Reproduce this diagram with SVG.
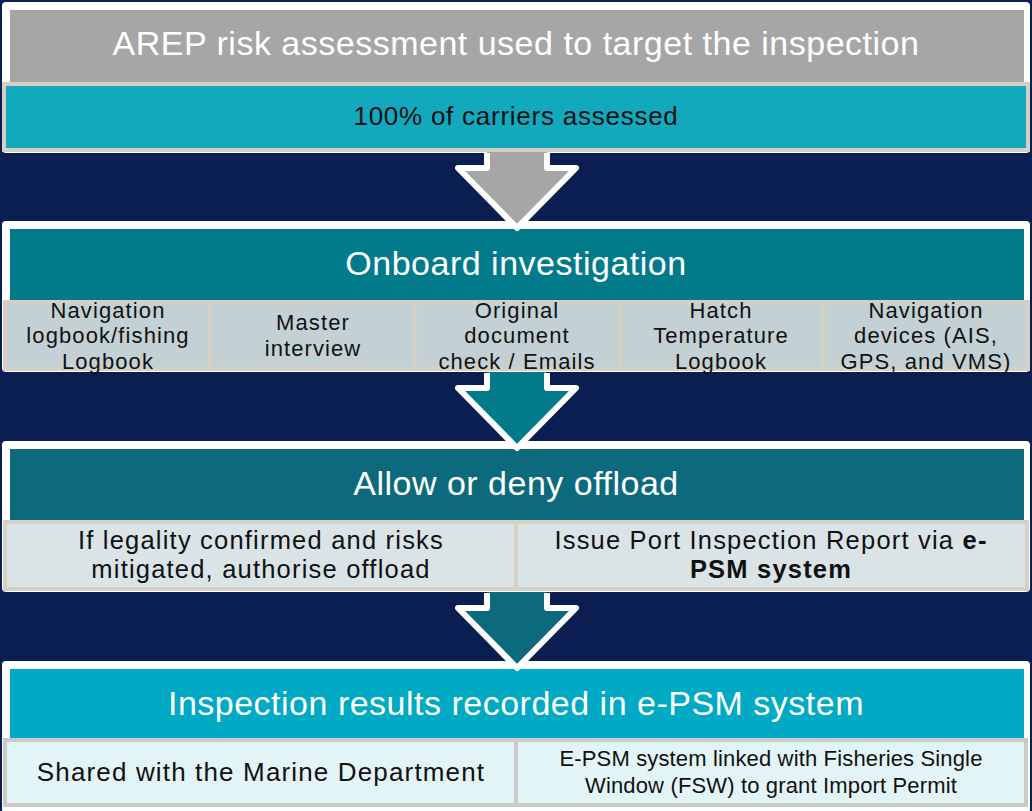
<svg xmlns="http://www.w3.org/2000/svg" width="1032" height="811" viewBox="0 0 1032 811">
<style>
.panel{fill:#ffffff}
.hd{font-family:"Liberation Sans",Arial,sans-serif;font-size:34px;letter-spacing:0.5px;fill:#ffffff;text-anchor:middle}
.sb{font-family:"Liberation Sans",Arial,sans-serif;font-size:25.5px;letter-spacing:1.2px;fill:#111111;text-anchor:middle}
.sm{font-family:"Liberation Sans",Arial,sans-serif;font-size:22px;letter-spacing:1.1px;fill:#111111;text-anchor:middle}
.b2{fill:#C3D1D4;stroke:#D6D0C4;stroke-width:4}
.b3{fill:#DAE3E6;stroke:#D6D1C6;stroke-width:4}
.b4{fill:#E3F4F7;stroke:#CACACA;stroke-width:4}
.arw{stroke:#ffffff;stroke-width:6;stroke-linejoin:round;fill:none}
</style>
<rect width="1032" height="811" fill="#0B1E51"/>

<g id="step1">
<rect class="panel" x="2" y="2" width="1028" height="151" rx="4"/>
<rect x="10" y="10" width="1014" height="73" fill="#A6A6A6"/>
<text class="hd" x="516" y="55">AREP risk assessment used to target the inspection</text>
<rect x="4" y="84" width="1024" height="66" fill="#12A9BE" stroke="#D6D0C4" stroke-width="4"/>
<text class="sb" x="516" y="125" style="font-size:26px;letter-spacing:0.75px">100% of carriers assessed</text>
</g>

<g id="step2">
<rect class="panel" x="2" y="221" width="1028" height="151" rx="4"/>
<rect x="10" y="229" width="1014" height="72" fill="#017B8A"/>
<text class="hd" x="516" y="275">Onboard investigation</text>
<rect class="b2" x="5" y="302" width="205" height="67"/>
<rect class="b2" x="210" y="302" width="205" height="67"/>
<rect class="b2" x="415" y="302" width="204" height="67"/>
<rect class="b2" x="619" y="302" width="204" height="67"/>
<rect class="b2" x="823" y="302" width="205" height="67"/>
<text class="sm" x="108" y="318">Navigation</text>
<text class="sm" x="108" y="343">logbook/fishing</text>
<text class="sm" x="108" y="369">Logbook</text>
<text class="sm" x="313" y="330">Master</text>
<text class="sm" x="313" y="356">interview</text>
<text class="sm" x="517" y="318">Original</text>
<text class="sm" x="517" y="343">document</text>
<text class="sm" x="517" y="369">check / Emails</text>
<text class="sm" x="721" y="318">Hatch</text>
<text class="sm" x="721" y="343">Temperature</text>
<text class="sm" x="721" y="369">Logbook</text>
<text class="sm" x="926" y="318">Navigation</text>
<text class="sm" x="926" y="343">devices (AIS,</text>
<text class="sm" x="926" y="369">GPS, and VMS)</text>
</g>

<g id="step3">
<rect class="panel" x="2" y="441" width="1028" height="151" rx="4"/>
<rect x="10" y="449" width="1014" height="72" fill="#0C6A7C"/>
<text class="hd" x="516" y="495">Allow or deny offload</text>
<rect class="b3" x="5" y="522" width="511" height="67"/>
<rect class="b3" x="516" y="522" width="511" height="67"/>
<text class="sb" x="261" y="549">If legality confirmed and risks</text>
<text class="sb" x="261" y="578">mitigated, authorise offload</text>
<text class="sb" x="771" y="549">Issue Port Inspection Report via <tspan font-weight="bold">e-</tspan></text>
<text class="sb" x="771" y="578" font-weight="bold">PSM system</text>
</g>

<g id="step4">
<rect class="panel" x="2" y="661" width="1028" height="152" rx="4"/>
<rect x="10" y="669" width="1014" height="70" fill="#00A9C4"/>
<text class="hd" x="516" y="715">Inspection results recorded in e-PSM system</text>
<rect class="b4" x="5" y="740" width="511" height="65"/>
<rect class="b4" x="516" y="740" width="510" height="65"/>
<text class="sb" x="261" y="781" style="font-size:26px;letter-spacing:1.15px">Shared with the Marine Department</text>
<text class="sm" x="771" y="766" style="letter-spacing:0.15px">E-PSM system linked with Fisheries Single</text>
<text class="sm" x="771" y="793" style="letter-spacing:0.15px">Window (FSW) to grant Import Permit</text>
</g>

<g id="connectors">
<polygon points="487,152 547,152 547,168 576,168 517,228 458,168 487,168" fill="#A6A6A6"/>
<polyline class="arw" points="487,153 487,168 458,168 517,228 576,168 547,168 547,153"/>
<polygon points="487,372 547,372 547,388 576,388 517,448 458,388 487,388" fill="#017B8A"/>
<polyline class="arw" points="487,373 487,388 458,388 517,448 576,388 547,388 547,373"/>
<polygon points="487,592 547,592 547,608 576,608 517,668 458,608 487,608" fill="#0C6A7C"/>
<polyline class="arw" points="487,593 487,608 458,608 517,668 576,608 547,608 547,593"/>
</g>
</svg>
